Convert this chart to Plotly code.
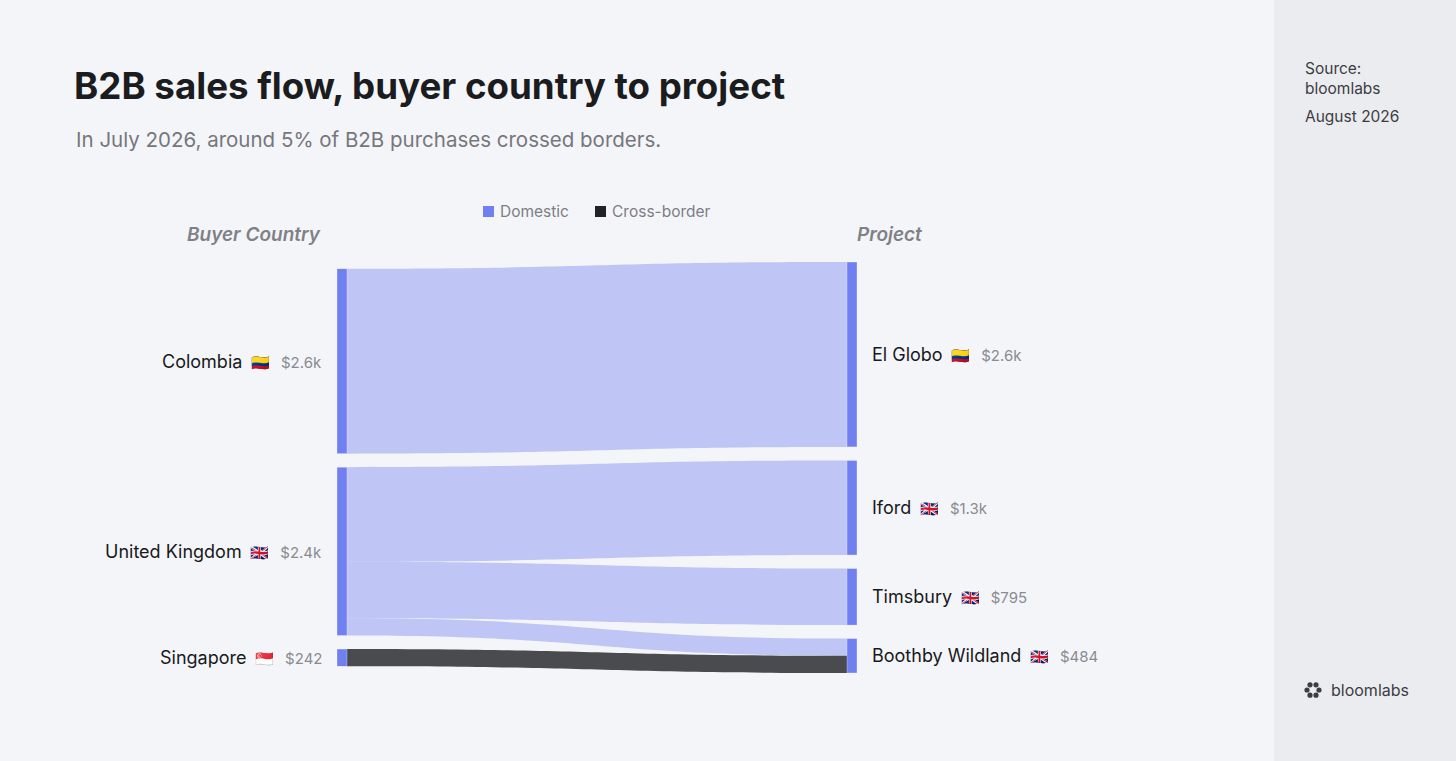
import math
import plotly.graph_objects as go

# sankey data
left_nodes = ["Colombia", "United Kingdom", "Singapore"]
right_nodes = ["El Globo", "Iford", "Timsbury", "Boothby Wildland"]
left_flags = ["\U0001F1E8\U0001F1F4", "\U0001F1EC\U0001F1E7", "\U0001F1F8\U0001F1EC"]
right_flags = ["\U0001F1E8\U0001F1F4", "\U0001F1EC\U0001F1E7", "\U0001F1EC\U0001F1E7", "\U0001F1EC\U0001F1E7"]
link_source = ["Colombia", "United Kingdom", "United Kingdom", "United Kingdom", "Singapore"]
link_target = ["El Globo", "Iford", "Timsbury", "Boothby Wildland", "Boothby Wildland"]
link_value = [2600, 1330, 795, 242, 242]
link_kind = ["Domestic", "Domestic", "Domestic", "Domestic", "Cross-border"]

# page / plot geometry (px)
PAGE_W, PAGE_H = 1456, 761
L, R, T, B = 337, 599, 262, 88
PW, PH = PAGE_W - L - R, PAGE_H - T - B
THICK, PAD = 10, 13.5

NODE_COL = "#7080f0"
KIND_COL = {"Domestic": "rgba(168,176,242,0.7)", "Cross-border": "#4a4b4f"}
KIND_SWATCH = {"Domestic": "#7080f0", "Cross-border": "#222326"}
FONT = "Inter"


def px(x):
    return (x - L) / PW


def py(y):
    return 1 - (y - T) / PH


def money(v):
    return f"${v / 1000:.1f}k" if v >= 1000 else f"${v:.0f}"


nodes = left_nodes + right_nodes
idx = {n: i for i, n in enumerate(nodes)}
totals = {n: 0 for n in nodes}
for s, t, v in zip(link_source, link_target, link_value):
    totals[s] += v
    totals[t] += v

# same scale d3-sankey would pick: column with most padding decides
cols = [left_nodes, right_nodes]
ky = min((PH - (len(c) - 1) * PAD) / sum(totals[n] for n in c) for c in cols)
node_x, node_y = {}, {}
for ci, c in enumerate(cols):
    used = sum(totals[n] for n in c) * ky + (len(c) - 1) * PAD
    pos = (PH - used) / 2
    for n in c:
        h = totals[n] * ky
        node_y[n] = (pos + h / 2) / PH
        node_x[n] = THICK / 2 / PW if ci == 0 else 1 - THICK / 2 / PW
        pos += h + PAD

fig = go.Figure(go.Sankey(
    arrangement="fixed",
    node=dict(
        label=[""] * len(nodes),
        x=[node_x[n] for n in nodes],
        y=[node_y[n] for n in nodes],
        pad=PAD,
        thickness=THICK,
        color=NODE_COL,
        line=dict(color="rgba(255,255,255,0.6)", width=0.5),
        hoverinfo="none",
    ),
    link=dict(
        source=[idx[s] for s in link_source],
        target=[idx[t] for t in link_target],
        value=link_value,
        color=[KIND_COL[k] for k in link_kind],
        line=dict(width=0),
        hoverinfo="none",
    ),
))

ann = []
NB = "\u00a0"
THIN = "\u2009"


def label_text(name, flag, val):
    return (f"{name}<span style='font-size:15px'>{NB * 2}{flag}{NB * 2}{THIN}</span>"
            f"<span style='color:#8a8b90;font-size:15px'>{money(val)}</span>")


for n, f in zip(left_nodes, left_flags):
    ann.append(dict(x=0, y=1 - node_y[n], xanchor="right", yanchor="middle", xshift=-13,
                    text=label_text(n, f, totals[n]), font=dict(size=18, color="#18191c")))
for n, f in zip(right_nodes, right_flags):
    ann.append(dict(x=1, y=1 - node_y[n], xanchor="left", yanchor="middle", xshift=13,
                    text=label_text(n, f, totals[n]), font=dict(size=18, color="#18191c")))

# titles
ann.append(dict(x=px(72), y=py(85), xanchor="left", yanchor="middle",
                text="B2B sales flow, buyer country to project",
                font=dict(size=36.7, color="#1b1c20", weight=700)))
ann.append(dict(x=px(74), y=py(140), xanchor="left", yanchor="middle",
                text="In July 2026, around 5% of B2B purchases crossed borders.",
                font=dict(size=20.5, color="#76777c")))
ann.append(dict(x=px(323), y=py(234), xanchor="right", yanchor="middle",
                text="Buyer Country", font=dict(size=19, color="#808186", weight=600, style="italic")))
ann.append(dict(x=px(855), y=py(234), xanchor="left", yanchor="middle",
                text="Project", font=dict(size=19, color="#808186", weight=600, style="italic")))

# legend
shapes = []
for k, x0 in zip(["Domestic", "Cross-border"], [483, 595]):
    shapes.append(dict(type="rect", xref="paper", yref="paper", x0=px(x0), x1=px(x0 + 11),
                       y0=py(217), y1=py(206), fillcolor=KIND_SWATCH[k], line=dict(width=0)))
    ann.append(dict(x=px(x0 + 15), y=py(212), xanchor="left", yanchor="middle", text=k,
                    font=dict(size=15.5, color="#7d7e83")))

# right side panel
shapes.insert(0, dict(type="rect", xref="paper", yref="paper", x0=px(1274), x1=px(PAGE_W),
                      y0=py(PAGE_H), y1=py(0), fillcolor="#ebecf0", line=dict(width=0), layer="below"))
ann.append(dict(x=px(1303), y=py(57), xanchor="left", yanchor="top", align="left",
                text="Source:<br>bloomlabs", font=dict(size=15.5, color="#3c3d42")))
ann.append(dict(x=px(1303), y=py(116), xanchor="left", yanchor="middle",
                text="August 2026", font=dict(size=15.5, color="#3c3d42")))
ann.append(dict(x=px(1329), y=py(690), xanchor="left", yanchor="middle",
                text="bloomlabs", font=dict(size=16, color="#3c3d42")))

# logo: ring of petals
for i in range(6):
    a = math.radians(i * 60)
    cx, cy = 1313 + 6 * math.cos(a), 690 + 6 * math.sin(a)
    shapes.append(dict(type="circle", xref="paper", yref="paper", xsizemode="pixel", ysizemode="pixel",
                       xanchor=px(cx), yanchor=py(cy), x0=-2.6, x1=2.6, y0=-2.6, y1=2.6,
                       fillcolor="#3c3d42", line=dict(width=0)))

for a in ann:
    a.setdefault("xref", "paper")
    a.setdefault("yref", "paper")
    a.setdefault("showarrow", False)
    a["font"].setdefault("family", FONT)

fig.update_layout(
    width=PAGE_W, height=PAGE_H,
    margin=dict(l=L, r=R, t=T, b=B),
    paper_bgcolor="#f4f5f9",
    plot_bgcolor="#f4f5f9",
    font=dict(family=FONT),
    annotations=ann,
    shapes=shapes,
)

fig.write_html("out.html", config={"displayModeBar": False},
               post_script="document.body.style.margin='0';"
                           "document.body.style.background='#f4f5f9';")
